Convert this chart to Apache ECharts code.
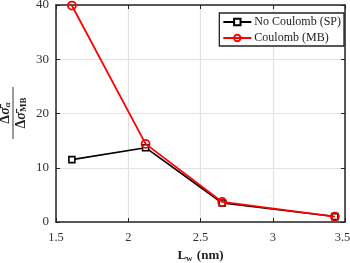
<!DOCTYPE html>
<html><head><meta charset="utf-8">
<script src="https://cdn.jsdelivr.net/npm/echarts@6/dist/echarts.min.js"></script>
<style>html,body{margin:0;padding:0;background:#fff}#c{width:350px;height:263px}</style>
</head><body><div id="c"></div>
<script>
const lw = [1.61, 2.12, 2.65, 3.43];
const noCoulomb = [11.5, 13.7, 3.5, 1.0];
const coulomb = [39.9, 14.4, 3.7, 1.0];
const xTicks = [1.5, 2, 2.5, 3, 3.5];
const yTicks = [0, 10, 20, 30, 40];
const seriesNames = ['No Coulomb (SP)', 'Coulomb (MB)'];

const font = 'Liberation Serif, DejaVu Serif, serif';
const axisCol = '#262626';
const chart = echarts.init(document.getElementById('c'));
const gridLine = {show: true, lineStyle: {color: '#e2e2e2', width: 1.2}};
const xMax = xTicks[xTicks.length-1];
chart.setOption({
  animation: false,
  grid: {left: 56, right: 5, top: 5, bottom: 41, containLabel: false, outerBoundsMode: 'none'},
  xAxis: [{
    type: 'value', min: xTicks[0], max: xMax, interval: 0.5,
    axisLine: {onZero: false, lineStyle: {color: axisCol, width: 1.5}},
    axisTick: {inside: true, length: 4, lineStyle: {color: axisCol}},
    axisLabel: {color: '#333', fontFamily: font, fontSize: 12.5, margin: 9,
      formatter: v => v === xMax ? '{e|' + v + '}' : String(v),
      rich: {e: {fontFamily: font, fontSize: 12.5, color: '#333', padding: [0, 5, 0, 0]}}},
    splitLine: gridLine,
    name: '{b|L}{s|w}{b| (nm)}', nameLocation: 'middle', nameGap: 25,
    nameTextStyle: {rich: {
      b: {fontFamily: font, fontWeight: 'bold', fontSize: 13, color: '#222'},
      s: {fontFamily: font, fontWeight: 'bold', fontSize: 9, color: '#222', padding: [6,1,0,0]}
    }}
  }, {
    type: 'value', position: 'top', min: xTicks[0], max: xMax, interval: 0.5,
    axisLine: {onZero: false, lineStyle: {color: axisCol, width: 1.5}},
    axisTick: {inside: true, length: 4, lineStyle: {color: axisCol}},
    axisLabel: {show: false}, splitLine: {show: false}
  }],
  yAxis: [{
    type: 'value', min: 0, max: 40, interval: 10,
    axisLine: {show: true, onZero: false, lineStyle: {color: axisCol, width: 1.5}},
    axisTick: {show: true, inside: true, length: 4, lineStyle: {color: axisCol}},
    axisLabel: {color: '#333', fontFamily: font, fontSize: 13, margin: 7},
    splitLine: gridLine
  }, {
    type: 'value', position: 'right', min: 0, max: 40, interval: 10,
    axisLine: {show: true, onZero: false, lineStyle: {color: axisCol, width: 1.5}},
    axisTick: {show: true, inside: true, length: 4, lineStyle: {color: axisCol}},
    axisLabel: {show: false}, splitLine: {show: false}
  }],
  legend: {
    orient: 'vertical', right: 6, top: 13, itemWidth: 28, itemHeight: 8, itemGap: 4,
    padding: [3, 3, 2, 3],
    backgroundColor: '#fff', borderColor: '#222', borderWidth: 1.3,
    textStyle: {fontFamily: font, fontSize: 12, color: '#222', padding: [0, 0, 0, -2]},
    data: seriesNames
  },
  graphic: [{
    type: 'group', x: 13, y: 113, rotation: Math.PI/2,
    children: [
      {type: 'text', x: 0, y: -1, style: {text: '{b|Δ}{i|σ̄}{s|α}', rich: {
        b: {fontFamily: font, fontWeight: 'bold', fontSize: 14, fill: '#222', lineHeight: 14},
        i: {fontFamily: font, fontStyle: 'italic', fontWeight: 'bold', fontSize: 14, fill: '#222', lineHeight: 14},
        s: {fontFamily: font, fontStyle: 'italic', fontWeight: 'bold', fontSize: 9, fill: '#222', lineHeight: 14, verticalAlign: 'bottom'}
      }, align: 'center', verticalAlign: 'bottom'}},
      {type: 'line', shape: {x1: -26, y1: 0, x2: 26, y2: 0}, style: {stroke: '#222', lineWidth: 0.9}},
      {type: 'text', x: 0, y: 1, style: {text: '{b|Δ}{i|σ̄}{s|MB}', rich: {
        b: {fontFamily: font, fontWeight: 'bold', fontSize: 14, fill: '#222', lineHeight: 14},
        i: {fontFamily: font, fontStyle: 'italic', fontWeight: 'bold', fontSize: 14, fill: '#222', lineHeight: 14},
        s: {fontFamily: font, fontWeight: 'bold', fontSize: 9, fill: '#222', lineHeight: 14, verticalAlign: 'bottom'}
      }, align: 'center', verticalAlign: 'top'}}
    ]
  }],
  series: [{
    name: seriesNames[0], type: 'line', data: lw.map((x, i) => [x, noCoulomb[i]]),
    symbol: 'rect', symbolSize: 6, showAllSymbol: true,
    lineStyle: {color: '#000', width: 1.6}, itemStyle: {color: '#fff', borderColor: '#000', borderWidth: 1.6},
    z: 2
  }, {
    name: seriesNames[1], type: 'line', data: lw.map((x, i) => [x, coulomb[i]]),
    symbol: 'circle', symbolSize: 8, showAllSymbol: true,
    lineStyle: {color: '#ff0000', width: 1.8}, itemStyle: {color: 'rgba(255,255,255,0)', borderColor: '#ff0000', borderWidth: 1.8},
    z: 3
  }]
});
</script></body></html>
